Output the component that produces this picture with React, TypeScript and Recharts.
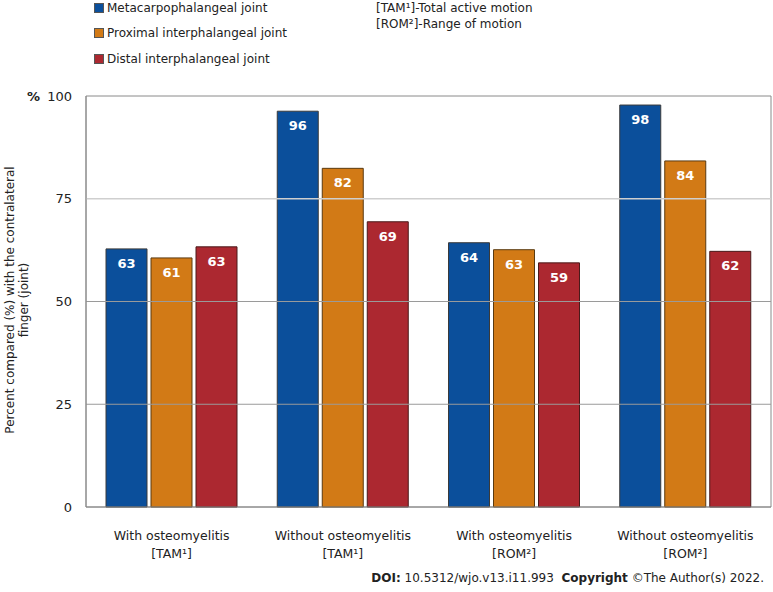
import React from 'react';
import { BarChart, Bar, XAxis, YAxis, CartesianGrid, LabelList, ReferenceLine, ReferenceArea } from 'recharts';

const categoryLine1 = ['With osteomyelitis', 'Without osteomyelitis', 'With osteomyelitis', 'Without osteomyelitis'];
const categoryLine2 = ['[TAM¹]', '[TAM¹]', '[ROM²]', '[ROM²]'];
const seriesNames = ['Metacarpophalangeal joint', 'Proximal interphalangeal joint', 'Distal interphalangeal joint'];
const mcpValues = [62.8, 96.3, 64.3, 97.8];
const pipValues = [60.6, 82.4, 62.6, 84.2];
const dipValues = [63.3, 69.4, 59.4, 62.2];
const yTicks = [0, 25, 50, 75, 100];
const notes = ['[TAM¹]-Total active motion', '[ROM²]-Range of motion'];

const colors = ['#0b4f9b', '#d27a16', '#ac2830'];
const strokes = ['#3a3a3a', '#5a3a10', '#4a1a1a'];
const FONT = "'DejaVu Sans', Verdana, sans-serif";

const data = categoryLine1.map((c, i) => ({
  key: i,
  l1: c,
  l2: categoryLine2[i],
  mcp: mcpValues[i],
  pip: pipValues[i],
  dip: dipValues[i],
}));

const XTick = (props: any) => {
  const { x, y, payload } = props;
  const d = data[payload.value];
  return (
    <g>
      <text x={x} y={y + 25} textAnchor="middle" fontSize={12.5} fill="#222" fontFamily={FONT}>{d.l1}</text>
      <text x={x} y={y + 43} textAnchor="middle" fontSize={12.5} fill="#222" fontFamily={FONT}>{d.l2}</text>
    </g>
  );
};

const BarLabel = (props: any) => {
  const { x, y, width, value } = props;
  return (
    <text x={x + width / 2} y={y + 19} textAnchor="middle" fontSize={13} fontWeight="bold" fill="#fff" fontFamily={FONT}>
      {Math.round(value)}
    </text>
  );
};

export default function App() {
  return (
    <div style={{ position: 'absolute', left: 0, top: 0, width: 773, height: 592, fontFamily: FONT, background: '#fff' }}>
      <BarChart
        width={773}
        height={592}
        data={data}
        margin={{ top: 96, right: 2, bottom: 25, left: 0 }}
        barCategoryGap={20}
        barGap={4}
      >
        <CartesianGrid vertical={false} horizontal={false} />
        <ReferenceLine y={25} stroke="#9a9a9a" strokeWidth={1} />
        <ReferenceLine y={50} stroke="#9a9a9a" strokeWidth={1} />
        <ReferenceLine y={75} stroke="#cfcfcf" strokeWidth={1.5} />
        <ReferenceArea y1={0} y2={100} fill="none" stroke="#8a8a8a" strokeWidth={1} ifOverflow="visible" />
        <XAxis
          dataKey="key"
          type="category"
          height={60}
          tickLine={false}
          axisLine={{ stroke: '#8a8a8a' }}
          tick={<XTick />}
          interval={0}
        />
        <YAxis
          width={86}
          domain={[0, 100]}
          ticks={yTicks}
          tickLine={false}
          axisLine={{ stroke: '#8a8a8a' }}
          tickMargin={8}
          tick={{ fontSize: 13, fill: '#222', fontFamily: FONT }}
        />
        <Bar dataKey="mcp" fill={colors[0]} stroke={strokes[0]} strokeWidth={1} isAnimationActive={false}>
          <LabelList dataKey="mcp" content={<BarLabel />} />
        </Bar>
        <Bar dataKey="pip" fill={colors[1]} stroke={strokes[1]} strokeWidth={1} isAnimationActive={false}>
          <LabelList dataKey="pip" content={<BarLabel />} />
        </Bar>
        <Bar dataKey="dip" fill={colors[2]} stroke={strokes[2]} strokeWidth={1} isAnimationActive={false}>
          <LabelList dataKey="dip" content={<BarLabel />} />
        </Bar>
      </BarChart>

      {/* Legend */}
      {seriesNames.map((n, i) => (
        <div key={n} style={{ position: 'absolute', left: 94, top: i * 25.5, height: 15, display: 'flex', alignItems: 'center', fontSize: 12, color: '#222', whiteSpace: 'nowrap' }}>
          <span style={{ display: 'inline-block', width: 8, height: 8, background: colors[i], border: '1px solid #555', marginRight: 3 }} />
          <span>{n}</span>
        </div>
      ))}

      {/* Notes */}
      {notes.map((n, i) => (
        <div key={n} style={{ position: 'absolute', left: 376, top: 1 + i * 15.5, height: 15, lineHeight: '15px', fontSize: 12, color: '#222', whiteSpace: 'nowrap' }}>{n}</div>
      ))}

      {/* % sign */}
      <div style={{ position: 'absolute', left: 27, top: 89, fontSize: 13, fontWeight: 'bold', color: '#222' }}>%</div>

      {/* Y axis title */}
      <svg width={40} height={592} style={{ position: 'absolute', left: 0, top: 0 }}>
        <g transform="translate(10,300) rotate(-90)">
          <text x={0} y={4} textAnchor="middle" fontSize={12} fill="#222" fontFamily={FONT}>Percent compared (%) with the contralateral</text>
          <text x={0} y={18} textAnchor="middle" fontSize={12} fill="#222" fontFamily={FONT}>finger (joint)</text>
        </g>
      </svg>

      {/* Footer */}
      <div style={{ position: 'absolute', right: 9, top: 571, fontSize: 12, color: '#222', whiteSpace: 'nowrap' }}>
        <b>DOI:</b> 10.5312/wjo.v13.i11.993&nbsp;&nbsp;<b>Copyright</b> ©The Author(s) 2022.
      </div>
    </div>
  );
}
